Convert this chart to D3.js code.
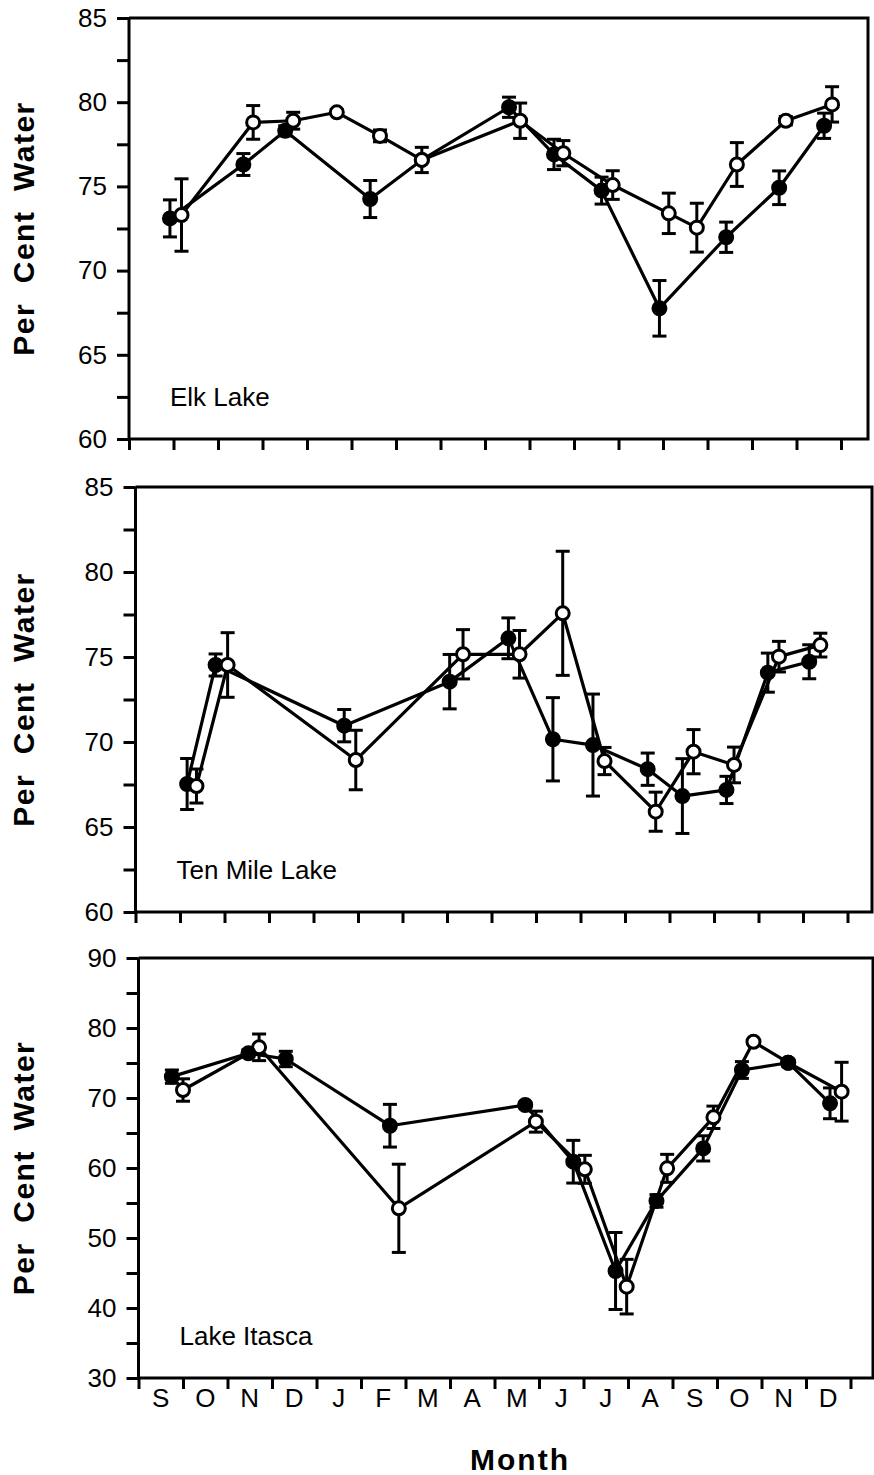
<!DOCTYPE html>
<html>
<head>
<meta charset="utf-8"/>
<script src="https://cdn.jsdelivr.net/npm/d3@7"></script>
<title>Per cent water by month</title>
<style>
body { margin: 0; background: #fff; }
text { font-family: "Liberation Sans", Arial, Helvetica, sans-serif; fill: #000; }
.tick line, .frame { stroke: #000; stroke-width: 3; }
.tick text { font-size: 26px; font-family: "Liberation Sans", Arial, Helvetica, sans-serif; }
.series { fill: none; stroke: #000; stroke-width: 3.2; stroke-linejoin: round; }
.err { stroke: #000; stroke-width: 3; }
</style>
</head>
<body>
<svg width="874" height="1475"></svg>
<script>
var months = ["S", "O", "N", "D", "J", "F", "M", "A", "M", "J", "J", "A", "S", "O", "N", "D"];
var lakes = ["Elk Lake", "Ten Mile Lake", "Lake Itasca"];
var yDomains = [[60, 85], [60, 85], [30, 90]];
var yTickSteps = [2.5, 2.5, 5];
var yLabelSteps = [5, 5, 10];

// month position (0 = start of first September), value, +/- error
var elkFilledM = [0.92, 2.57, 3.51, 5.42, 6.58, 8.54, 9.55, 10.62, 11.92, 13.42, 14.61, 15.62];
var elkFilledV = [73.1, 76.3, 78.3, 74.25, 76.57, 79.7, 76.9, 74.75, 67.76, 71.98, 74.92, 78.6];
var elkFilledE = [1.1, 0.65, 0.3, 1.1, 0, 0.6, 0.9, 0.8, 1.65, 0.9, 1.0, 0.75];
var elkOpenM = [1.18, 2.79, 3.69, 4.67, 5.64, 6.58, 8.79, 9.76, 10.87, 12.13, 12.76, 13.66, 14.76, 15.8];
var elkOpenV = [73.3, 78.8, 78.9, 79.4, 78.0, 76.57, 78.9, 76.97, 75.08, 73.4, 72.55, 76.3, 78.9, 79.87];
var elkOpenE = [2.15, 1.0, 0.5, 0.15, 0.35, 0.75, 1.05, 0.75, 0.85, 1.2, 1.45, 1.3, 0.25, 1.05];

var tenFilledM = [1.16, 1.8, 4.69, 7.06, 8.38, 9.38, 10.28, 11.51, 12.29, 13.28, 14.21, 15.14];
var tenFilledV = [67.53, 74.53, 70.96, 73.55, 76.1, 70.16, 69.82, 68.4, 66.82, 67.18, 74.08, 74.72];
var tenFilledE = [1.5, 0.65, 0.95, 1.6, 1.2, 2.45, 3.0, 0.95, 2.2, 0.8, 1.15, 1.0];
var tenOpenM = [1.37, 2.07, 4.95, 7.36, 8.63, 9.6, 10.54, 11.69, 12.54, 13.45, 14.46, 15.39];
var tenOpenV = [67.41, 74.53, 68.94, 75.16, 75.16, 77.57, 68.88, 65.9, 69.43, 68.65, 75.02, 75.7];
var tenOpenE = [1.0, 1.9, 1.75, 1.45, 1.4, 3.65, 0.8, 1.15, 1.3, 1.05, 0.9, 0.7];

var itaFilledM = [0.75, 2.47, 3.31, 5.65, 8.69, 9.77, 10.72, 11.64, 12.69, 13.56, 14.6, 15.54];
var itaFilledV = [73.05, 76.38, 75.57, 66.04, 69.0, 60.9, 45.29, 55.3, 62.8, 74.0, 75.04, 69.24];
var itaFilledE = [0.95, 0.5, 1.1, 3.05, 0.4, 3.05, 5.5, 0.9, 1.8, 1.2, 0.5, 2.2];
var itaOpenM = [1.0, 2.71, 5.85, 8.93, 10.03, 10.97, 11.88, 12.92, 13.82, 14.6, 15.8];
var itaOpenV = [71.14, 77.24, 54.24, 66.62, 59.81, 43.05, 59.95, 67.24, 78.04, 75.04, 70.9];
var itaOpenE = [1.6, 1.9, 6.3, 1.5, 2.0, 3.9, 2.0, 1.6, 0, 0, 4.2];

function pts(m, v, e) {
  return m.map(function(d, i) { return {m: d, v: v[i], e: e[i]}; });
}

var filled = [pts(elkFilledM, elkFilledV, elkFilledE), pts(tenFilledM, tenFilledV, tenFilledE), pts(itaFilledM, itaFilledV, itaFilledE)];
var open = [pts(elkOpenM, elkOpenV, elkOpenE), pts(tenOpenM, tenOpenV, tenOpenE), pts(itaOpenM, itaOpenV, itaOpenE)];
// which series sits on top where they share a point
var openOnTop = [true, true, false];

// layout (the scan is slightly skewed so each panel is shifted a bit)
var panelX0 = [129, 135.5, 138.5],
    panelTop = [18, 487, 958],
    panelBottom = [439, 912, 1378],
    panelRight = [868, 872, 873],
    monthW = 44.5;

var svg = d3.select("svg");

lakes.forEach(function(name, p) {
  var g = svg.append("g");
  var x = d3.scaleLinear().domain([0, 16]).range([panelX0[p], panelX0[p] + 16 * monthW]);
  var y = d3.scaleLinear().domain(yDomains[p]).range([panelBottom[p], panelTop[p]]);

  // frame: top and right sides
  g.append("path").attr("class", "frame").attr("fill", "none")
    .attr("d", "M" + x(0) + "," + y.range()[1] + "H" + panelRight[p] + "V" + y.range()[0] + "H" + x(0) + "V" + y.range()[1]);

  var step = yTickSteps[p], lstep = yLabelSteps[p];
  var yAxis = d3.axisLeft(y)
    .tickValues(d3.range(yDomains[p][0], yDomains[p][1] + 0.01, step))
    .tickSize(12).tickPadding(10)
    .tickFormat(function(d) { return Math.abs(d % lstep) < 1e-6 ? d : ""; });
  var ya = g.append("g").attr("transform", "translate(" + x(0) + ",0)").call(yAxis);
  ya.attr("font-size", null).attr("font-family", null);
  ya.select(".domain").remove();

  var xAxis = d3.axisBottom(x).tickValues(d3.range(0, 17)).tickSize(11).tickFormat("");
  var xa = g.append("g").attr("transform", "translate(0," + y.range()[0] + ")").call(xAxis);
  xa.select(".domain").remove();

  g.append("text")
    .attr("x", x(0) + 41).attr("y", y.range()[0] - 33)
    .style("font-size", "26px")
    .text(name);

  svg.append("text")
    .attr("transform", "translate(34," + (panelTop[p] + panelBottom[p]) / 2 + ") rotate(-90)")
    .attr("text-anchor", "middle")
    .style("font-size", "30px").style("font-weight", "bold")
    .style("letter-spacing", "1.5px").style("white-space", "pre")
    .text("Per  Cent  Water");

  var line = d3.line().x(function(d) { return x(d.m); }).y(function(d) { return y(d.v); });
  [filled[p], open[p]].forEach(function(s) {
    g.append("path").datum(s).attr("class", "series").attr("d", line);
  });

  [filled[p], open[p]].forEach(function(s) {
    var eb = g.selectAll(null).data(s.filter(function(d) { return d.e > 0; })).enter().append("g");
    eb.append("line").attr("class", "err")
      .attr("x1", function(d) { return x(d.m); }).attr("x2", function(d) { return x(d.m); })
      .attr("y1", function(d) { return y(d.v - d.e); }).attr("y2", function(d) { return y(d.v + d.e); });
    [-1, 1].forEach(function(sgn) {
      eb.append("line").attr("class", "err")
        .attr("x1", function(d) { return x(d.m) - 7; }).attr("x2", function(d) { return x(d.m) + 7; })
        .attr("y1", function(d) { return y(d.v + sgn * d.e); }).attr("y2", function(d) { return y(d.v + sgn * d.e); });
    });
  });

  var order = openOnTop[p] ? [[filled[p], "#000"], [open[p], "#fff"]] : [[open[p], "#fff"], [filled[p], "#000"]];
  order.forEach(function(o) {
    g.selectAll(null).data(o[0]).enter().append("circle")
      .attr("cx", function(d) { return x(d.m); })
      .attr("cy", function(d) { return y(d.v); })
      .attr("r", 6.5)
      .attr("fill", o[1]).attr("stroke", "#000").attr("stroke-width", 3);
  });

  if (p === 2) {
    g.selectAll(".month").data(months).enter().append("text")
      .attr("class", "month")
      .attr("x", function(d, i) { return x(i + 0.5); })
      .attr("y", y.range()[0] + 29)
      .attr("text-anchor", "middle")
      .style("font-size", "26px")
      .text(function(d) { return d; });
  }
});

svg.append("text")
  .attr("x", 520).attr("y", 1470)
  .attr("text-anchor", "middle")
  .style("font-size", "30px").style("font-weight", "bold").style("letter-spacing", "2px")
  .text("Month");
</script>
</body>
</html>
